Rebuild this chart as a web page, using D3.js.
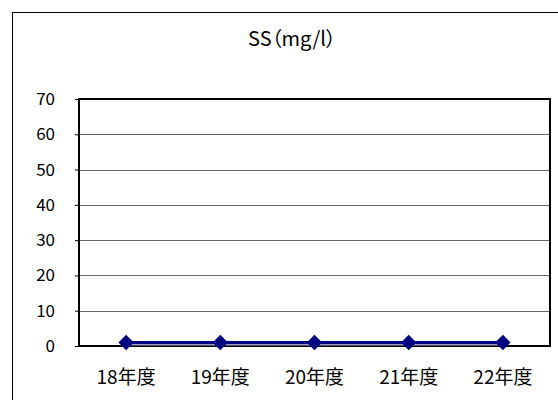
<!DOCTYPE html>
<html><head><meta charset="utf-8">
<script src="https://cdn.jsdelivr.net/npm/d3@7"></script>
<style>body{margin:0;background:#fff}svg{display:block}</style>
</head><body>
<script>
const categories = ["18年度","19年度","20年度","21年度","22年度"];
const values = [1, 1, 1, 1, 1];
const yTicks = [0,10,20,30,40,50,60,70];
const title = "SS（mg/l）";

const W = 558, H = 400;
const svg = d3.select("body").append("svg").attr("width", W).attr("height", H);
svg.append("rect").attr("width", W).attr("height", H).attr("fill", "#fff");
// outer chart frame (extends beyond the window)
svg.append("rect").attr("x", 12.5).attr("y", 12.5).attr("width", 620).attr("height", 450)
  .attr("fill", "none").attr("stroke", "#000").attr("stroke-width", 1);

const L = 79, R = 550, T = 99, B = 346;
const x = d3.scaleBand().domain(categories).range([L, R]);
const y = d3.scaleLinear().domain([0, 70]).range([B, T]);
const font = "'Noto Sans CJK JP', 'Noto Sans', sans-serif";

svg.append("text").attr("x", 292).attr("y", 46).attr("text-anchor", "middle")
  .attr("font-family", font).attr("font-size", 20).attr("fill", "#000")
  .style("font-feature-settings", "'palt'").text(title);

// gridlines
svg.append("g").selectAll("line").data(yTicks.filter(d => d > 0 && d < 70)).join("line")
  .attr("x1", L).attr("x2", R).attr("y1", d => Math.round(y(d)) + 0.5).attr("y2", d => Math.round(y(d)) + 0.5)
  .attr("stroke", "#666").attr("stroke-width", 1);

// y axis
const yAxis = d3.axisLeft(y).tickValues(yTicks).tickSize(4).tickPadding(20).tickFormat(d3.format("d"));
const gy = svg.append("g").attr("transform", `translate(${L},0)`).call(yAxis);
gy.select(".domain").remove();
gy.selectAll(".tick line").attr("stroke", "#000");
gy.selectAll("text").attr("font-family", font).attr("font-size", 17).attr("fill", "#000");

// x axis
const xAxis = d3.axisBottom(x).tickSize(0).tickPadding(0);
const gx = svg.append("g").attr("transform", `translate(0,${B})`).call(xAxis);
gx.select(".domain").remove();
gx.selectAll("text").attr("dy", null).attr("y", 38).attr("font-family", font).attr("font-size", 19).attr("fill", "#000");
// category boundary ticks (inside)
svg.append("g").selectAll("line").data(categories.slice(1)).join("line")
  .attr("x1", d => Math.round(x(d)) + 0.5).attr("x2", d => Math.round(x(d)) + 0.5)
  .attr("y1", B - 5).attr("y2", B).attr("stroke", "#000");

// plot frame
svg.append("rect").attr("x", L).attr("y", T).attr("width", R - L).attr("height", B - T)
  .attr("fill", "none").attr("stroke", "#000").attr("stroke-width", 2);

// series
const cx = d => x(d) + x.bandwidth() / 2;
const line = d3.line().x((d, i) => cx(categories[i])).y(d => y(d));
svg.append("path").datum(values).attr("d", line).attr("fill", "none")
  .attr("stroke", "#9a9ac8").attr("stroke-width", 3).attr("transform", "translate(0,1.5)");
svg.append("path").datum(values).attr("d", line).attr("fill", "none")
  .attr("stroke", "#000080").attr("stroke-width", 3);
svg.append("g").selectAll("path").data(values).join("path")
  .attr("d", d3.symbol().type(d3.symbolDiamond2).size(150))
  .attr("transform", (d, i) => `translate(${cx(categories[i])},${y(d)})`)
  .attr("fill", "#000080");
</script>
</body></html>
